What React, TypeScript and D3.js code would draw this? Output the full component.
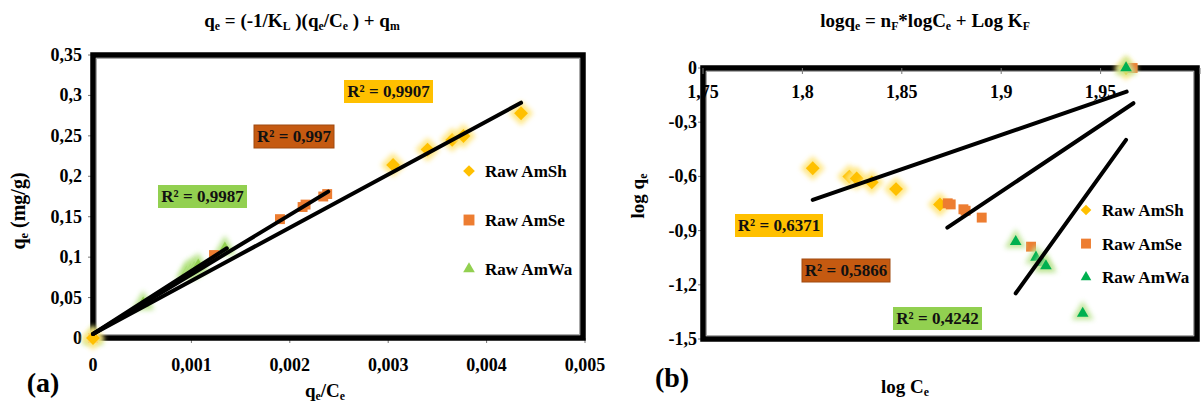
import React from "react";
import * as d3 from "d3";

// ---------- data: Langmuir (a) ----------
const aShX = [0, 0.00305, 0.0034, 0.00365, 0.003765, 0.00435];
const aShY = [0, 0.214, 0.233, 0.245, 0.2498, 0.278];
const aSeX = [0, 0.00123, 0.0019, 0.00213, 0.00216, 0.00234, 0.00238];
const aSeY = [0, 0.1026, 0.147, 0.162, 0.165, 0.175, 0.178];
const aWaX = [0, 0.00051, 0.00095, 0.00099, 0.00103, 0.00107, 0.00134];
const aWaY = [0, 0.043, 0.081, 0.084, 0.087, 0.09, 0.111];
// trendline endpoints [x0, x1], [y0, y1]
const aShFitX = [0, 0.00435];
const aShFitY = [0.005, 0.291];
const aSeFitX = [0, 0.00239];
const aSeFitY = [0.005, 0.181];
const aWaFitX = [0, 0.00136];
const aWaFitY = [0.005, 0.111];
const aXTicks = [0, 0.001, 0.002, 0.003, 0.004, 0.005];
const aYTicks = [0, 0.05, 0.1, 0.15, 0.2, 0.25, 0.3, 0.35];
const aR2 = ["R² = 0,9907", "R² = 0,997", "R² = 0,9987"];

// ---------- data: Freundlich (b) ----------
const bShX = [1.8052, 1.8236, 1.8273, 1.8349, 1.8471, 1.8692, 1.9628];
const bShY = [-0.555, -0.601, -0.611, -0.633, -0.67, -0.755, 0];
const bSeX = [1.8731, 1.8746, 1.881, 1.8821, 1.8902, 1.915, 1.9661];
const bSeY = [-0.749, -0.755, -0.782, -0.79, -0.828, -0.989, 0];
const bWaX = [1.9073, 1.9175, 1.9209, 1.9225, 1.941, 1.9628];
const bWaY = [-0.961, -1.048, -1.077, -1.096, -1.358, 0];
const bShFitX = [1.8052, 1.9631];
const bShFitY = [-0.73, -0.131];
const bSeFitX = [1.8729, 1.9665];
const bSeFitY = [-0.884, -0.195];
const bWaFitX = [1.9073, 1.9628];
const bWaFitY = [-1.247, -0.398];
const bXTicks = [1.75, 1.8, 1.85, 1.9, 1.95];
const bYTicks = [0, -0.3, -0.6, -0.9, -1.2, -1.5];
const bR2 = ["R² = 0,6371", "R² = 0,5866", "R² = 0,4242"];

const seriesNames = ["Raw AmSh", "Raw AmSe", "Raw AmWa"];

const GOLD = "#FFC000";
const ORANGE = "#ED7D31";
const BROWN = "#C55A11";
const LGREEN = "#92D050";
const DGREEN = "#00B050";
const FONT = "'Liberation Serif', 'Times New Roman', serif";

const fmt = (v: number) => String(+v.toFixed(3)).replace(".", ",");

type Shape = "diamond" | "square" | "triangle";

function Marker({ x, y, shape, fill, glow, size = 10 }: { x: number; y: number; shape: Shape; fill: string; glow?: string; size?: number }) {
  const sym = shape === "diamond" ? d3.symbolDiamond2 : shape === "square" ? d3.symbolSquare2 : d3.symbolTriangle2;
  const k = shape === "diamond" ? 0.72 : shape === "triangle" ? 0.8 : 1.25;
  const path = d3.symbol(sym, size * size * k)();
  const gpath = d3.symbol(sym, (size + 10) * (size + 10) * k)();
  return (
    <g transform={`translate(${x},${y})`}>
      {glow && <path d={gpath || ""} fill={glow} opacity={0.95} filter="url(#glow)" />}
      <path d={path || ""} fill={fill} />
    </g>
  );
}

function Sub({ children }: { children: string }) {
  return (
    <tspan fontSize="0.62em" dy="0.25em">
      {children}
    </tspan>
  );
}

function R2Box({ x, y, w, text, fill }: { x: number; y: number; w: number; text: string; fill: string }) {
  return (
    <g>
      <rect x={x} y={y} width={w} height={23} fill={fill} stroke={fill === BROWN ? "#a04a10" : "none"} />
      <text x={x + w / 2} y={y + 17} textAnchor="middle" fontSize={17} fill="#111">
        {text}
      </text>
    </g>
  );
}

export default function App() {
  const ax = d3.scaleLinear().domain([0, 0.005]).range([93, 585]);
  const ay = d3.scaleLinear().domain([0, 0.35]).range([338, 55]);
  const bx = d3.scaleLinear().domain([1.75, 2.0]).range([703, 1200]);
  const by = d3.scaleLinear().domain([-1.5, 0]).range([339, 68]);

  const line = (sx: d3.ScaleLinear<number, number>, sy: d3.ScaleLinear<number, number>, xs: number[], ys: number[]) =>
    d3
      .line<number>()
      .x((d) => sx(d))
      .y((_, i) => sy(ys[i]))(xs) || "";

  const pts = (xs: number[], ys: number[]) => xs.map((x, i) => [x, ys[i]] as [number, number]);

  return (
    <svg width={1203} height={410} style={{ display: "block", position: "absolute", left: 0, top: 0 }} fontFamily={FONT} fontWeight="bold">
      <defs>
        <filter id="glow" x="-60%" y="-60%" width="220%" height="220%">
          <feGaussianBlur stdDeviation="2.4" />
        </filter>
      </defs>
      <rect x={0} y={0} width={1203} height={410} fill="#fff" />

      {/* ================= PANEL A ================= */}
      <text x={302} y={27} textAnchor="middle" fontSize={19}>
        q<Sub>e</Sub>
        <tspan dy="-0.155em"> = (-1/K</tspan>
        <Sub>L</Sub>
        <tspan dy="-0.155em"> )(q</tspan>
        <Sub>e</Sub>
        <tspan dy="-0.155em">/C</tspan>
        <Sub>e</Sub>
        <tspan dy="-0.155em"> ) + q</tspan>
        <Sub>m</Sub>
      </text>

      {aYTicks.map((t) => (
        <g key={"ay" + t}>
          <line x1={88} x2={93} y1={ay(t)} y2={ay(t)} stroke="#777" strokeWidth={1} />
          <text x={82} y={ay(t) + 6} textAnchor="end" fontSize={18}>
            {fmt(t)}
          </text>
        </g>
      ))}
      {aXTicks.map((t) => (
        <g key={"ax" + t}>
          <line x1={ax(t)} x2={ax(t)} y1={338} y2={343} stroke="#777" strokeWidth={1} />
          <text x={ax(t)} y={371} textAnchor="middle" fontSize={18}>
            {fmt(t)}
          </text>
        </g>
      ))}

      <rect x={ax(0)} y={ay(0.35)} width={583 - ax(0)} height={ay(0) - ay(0.35)} fill="none" stroke="#000" strokeWidth={5.5} />
      <rect x={ax(0) + 3.5} y={ay(0.35) + 3.5} width={583 - ax(0) - 7} height={ay(0) - ay(0.35) - 7} fill="none" stroke="#aaa" strokeWidth={1} />

      {pts(aWaX, aWaY).map(([x, y], i) => (
        <Marker key={"aw" + i} x={ax(x)} y={ay(y)} shape="triangle" fill={LGREEN} glow="#b4e283" size={11} />
      ))}
      {pts(aSeX, aSeY).map(([x, y], i) => (
        <Marker key={"as" + i} x={ax(x)} y={ay(y)} shape="square" fill={ORANGE} size={10} />
      ))}
      {pts(aShX, aShY).map(([x, y], i) => (
        <Marker key={"ah" + i} x={ax(x)} y={ay(y)} shape="diamond" fill={GOLD} glow="#ffe680" size={13} />
      ))}

      <path d={line(ax, ay, aShFitX, aShFitY)} stroke="#000" strokeWidth={4} fill="none" strokeLinecap="round" />
      <path d={line(ax, ay, aSeFitX, aSeFitY)} stroke="#000" strokeWidth={4} fill="none" strokeLinecap="round" />
      <path d={line(ax, ay, aWaFitX, aWaFitY)} stroke="#000" strokeWidth={4} fill="none" strokeLinecap="round" />

      <R2Box x={344} y={80} w={89} text={aR2[0]} fill={GOLD} />
      <R2Box x={254} y={125} w={80} text={aR2[1]} fill={BROWN} />
      <R2Box x={158} y={185} w={89} text={aR2[2]} fill={LGREEN} />

      {seriesNames.map((n, i) => (
        <g key={"la" + i}>
          <Marker x={469} y={171 + i * 49} shape={i === 0 ? "diamond" : i === 1 ? "square" : "triangle"} fill={i === 0 ? GOLD : i === 1 ? ORANGE : LGREEN} size={11} />
          <text x={485} y={171 + i * 49 + 6} fontSize={17}>
            {n}
          </text>
        </g>
      ))}

      <text x={19} y={211} transform="rotate(-90 19 211)" textAnchor="middle" fontSize={20} dy="6">
        q<Sub>e</Sub>
        <tspan dy="-0.155em"> (mg/g)</tspan>
      </text>
      <text x={325} y={397} textAnchor="middle" fontSize={19}>
        q<Sub>e</Sub>
        <tspan dy="-0.155em">/C</tspan>
        <Sub>e</Sub>
      </text>
      <text x={43} y={392} textAnchor="middle" fontSize={28}>
        (a)
      </text>

      {/* ================= PANEL B ================= */}
      <text x={925} y={27} textAnchor="middle" fontSize={19}>
        logq<Sub>e</Sub>
        <tspan dy="-0.155em"> = n</tspan>
        <Sub>F</Sub>
        <tspan dy="-0.155em">*logC</tspan>
        <Sub>e</Sub>
        <tspan dy="-0.155em"> + Log K</tspan>
        <Sub>F</Sub>
      </text>

      {bYTicks.map((t) => (
        <g key={"by" + t}>
          <line x1={698} x2={703} y1={by(t)} y2={by(t)} stroke="#777" strokeWidth={1} />
          <text x={697} y={by(t) + 6} textAnchor="end" fontSize={18}>
            {fmt(t)}
          </text>
        </g>
      ))}

      <rect x={bx(1.75)} y={by(0)} width={1197 - bx(1.75)} height={by(-1.5) - by(0)} fill="none" stroke="#000" strokeWidth={5.5} />
      <rect x={bx(1.75) + 3.5} y={by(0) + 3.5} width={1197 - bx(1.75) - 7} height={by(-1.5) - by(0) - 7} fill="none" stroke="#aaa" strokeWidth={1} />

      {bXTicks.concat([2.0]).map((t) => (
        <line key={"bxt" + t} x1={bx(t)} x2={bx(t)} y1={by(0)} y2={by(0) + 6} stroke="#777" strokeWidth={1} />
      ))}
      {bXTicks.map((t) => (
        <text key={"bx" + t} x={bx(t)} y={98} textAnchor="middle" fontSize={18}>
          {fmt(t)}
        </text>
      ))}

      {pts(bShX, bShY).map(([x, y], i) => (
        <Marker key={"bh" + i} x={bx(x)} y={by(y)} shape="diamond" fill={GOLD} glow="#ffe680" size={13} />
      ))}
      {pts(bSeX, bSeY).map(([x, y], i) => (
        <Marker key={"bs" + i} x={bx(x)} y={by(y)} shape="square" fill={ORANGE} size={10} />
      ))}
      {pts(bWaX, bWaY).map(([x, y], i) => (
        <Marker key={"bw" + i} x={bx(x)} y={by(y)} shape="triangle" fill={DGREEN} glow="#bfe596" size={11} />
      ))}

      <path d={line(bx, by, bShFitX, bShFitY)} stroke="#000" strokeWidth={4} fill="none" strokeLinecap="round" />
      <path d={line(bx, by, bSeFitX, bSeFitY)} stroke="#000" strokeWidth={4} fill="none" strokeLinecap="round" />
      <path d={line(bx, by, bWaFitX, bWaFitY)} stroke="#000" strokeWidth={4} fill="none" strokeLinecap="round" />

      <R2Box x={735} y={214} w={88} text={bR2[0]} fill={GOLD} />
      <R2Box x={802} y={259} w={88} text={bR2[1]} fill={BROWN} />
      <R2Box x={893} y={307} w={89} text={bR2[2]} fill={LGREEN} />

      {seriesNames.map((n, i) => (
        <g key={"lb" + i}>
          <Marker x={1086} y={210 + i * 33.6} shape={i === 0 ? "diamond" : i === 1 ? "square" : "triangle"} fill={i === 0 ? GOLD : i === 1 ? ORANGE : DGREEN} size={10} />
          <text x={1102} y={210 + i * 33.6 + 6} fontSize={17}>
            {n}
          </text>
        </g>
      ))}

      <text x={638} y={196} transform="rotate(-90 638 196)" textAnchor="middle" fontSize={19} dy="6">
        log q<Sub>e</Sub>
      </text>
      <text x={905} y={393} textAnchor="middle" fontSize={19}>
        log C<Sub>e</Sub>
      </text>
      <text x={672} y={387} textAnchor="middle" fontSize={28}>
        (b)
      </text>
    </svg>
  );
}
